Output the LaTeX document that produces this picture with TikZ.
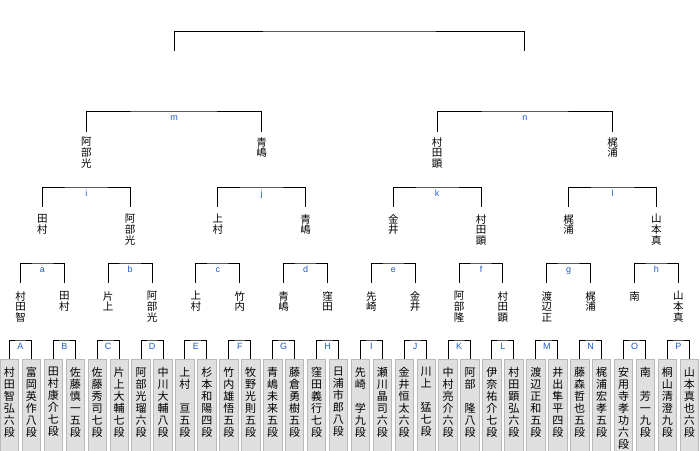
\documentclass[tikz,border=0pt]{standalone}
\usepackage{fontspec}
\newfontfamily\jpfont{Noto Sans CJK JP}
\newfontfamily\labfont{Liberation Sans}
\definecolor{labblue}{RGB}{30,90,200}
\newcommand{\zs}{\phantom{段}}
\begin{document}
\begin{tikzpicture}[x=1pt,y=-1pt,
  bline/.style={draw=black,line width=1pt},
  blabel/.style={font=\labfont\fontsize{9}{10}\selectfont,text=labblue,inner sep=0pt,anchor=base},
  pbox/.style={draw=gray!55,fill=gray!25,line width=0.8pt,minimum width=18.5pt,minimum height=93pt,inner sep=0pt,anchor=north},
  pname/.style={font=\jpfont\fontsize{11}{12}\selectfont,align=center,inner sep=0pt,anchor=north},
  wname/.style={font=\jpfont\fontsize{10.5}{10.8}\selectfont,align=center,inner sep=0pt,anchor=north}]
\useasboundingbox (0,0) rectangle (700,450);
% players
\foreach \t [count=\n from 0] in {
 {村\\田\\智\\弘\\六\\段},{富\\岡\\英\\作\\八\\段},{田\\村\\康\\介\\七\\段},{佐\\藤\\慎\\一\\五\\段},
 {佐\\藤\\秀\\司\\七\\段},{片\\上\\大\\輔\\七\\段},{阿\\部\\光\\瑠\\六\\段},{中\\川\\大\\輔\\八\\段},
 {上\\村\\\zs\\亘\\五\\段},{杉\\本\\和\\陽\\四\\段},{竹\\内\\雄\\悟\\五\\段},{牧\\野\\光\\則\\五\\段},
 {青\\嶋\\未\\来\\五\\段},{藤\\倉\\勇\\樹\\五\\段},{窪\\田\\義\\行\\七\\段},{日\\浦\\市\\郎\\八\\段},
 {先\\崎\\\zs\\学\\九\\段},{瀬\\川\\晶\\司\\六\\段},{金\\井\\恒\\太\\六\\段},{川\\上\\\zs\\猛\\七\\段},
 {中\\村\\亮\\介\\六\\段},{阿\\部\\\zs\\隆\\八\\段},{伊\\奈\\祐\\介\\七\\段},{村\\田\\顕\\弘\\六\\段},
 {渡\\辺\\正\\和\\五\\段},{井\\出\\隼\\平\\四\\段},{藤\\森\\哲\\也\\五\\段},{梶\\浦\\宏\\孝\\五\\段},
 {安\\用\\寺\\孝\\功\\六\\段},{南\\\zs\\芳\\一\\九\\段},{桐\\山\\清\\澄\\九\\段},{山\\本\\真\\也\\六\\段}}{
  \pgfmathsetmacro\cx{9.5+21.93*\n}
  \node[pbox] (box-\n) at (\cx,359) {};
  \node[pname] (nm-\n) at (\cx,367) {\t};
}
% level 0 brackets A-P
\foreach \L [count=\k from 0] in {A,B,C,D,E,F,G,H,I,J,K,L,M,N,O,P}{
  \pgfmathtruncatemacro\l{2*\k}
  \pgfmathtruncatemacro\r{2*\k+1}
  \pgfmathsetmacro\xm{20.5+43.86*\k}
  \coordinate (h0-\k) at (\xm,340);
  \draw[bline] (box-\l.north) |- (h0-\k) -| (box-\r.north);
  \node[blabel] (l0-\k) at (\xm,349.5) {\L};
}
% level 1 winners
\foreach \t [count=\k from 0] in {{村\\田\\智},{田\\村},{片\\上},{阿\\部\\光},{上\\村},{竹\\内},{青\\嶋},{窪\\田},
 {先\\崎},{金\\井},{阿\\部\\隆},{村\\田\\顕},{渡\\辺\\正},{梶\\浦},{南},{山\\本\\真}}{
  \pgfmathsetmacro\xx{20.5+43.86*\k}
  \coordinate (d1-\k) at (\xx,283);
  \node[wname] (w1-\k) at (\xx,291) {\t};
}
\foreach \L [count=\k from 0] in {a,b,c,d,e,f,g,h}{
  \pgfmathtruncatemacro\l{2*\k}
  \pgfmathtruncatemacro\r{2*\k+1}
  \pgfmathsetmacro\xm{42.4+87.72*\k}
  \coordinate (h1-\k) at (\xm,263);
  \draw[bline] (d1-\l) |- (h1-\k) -| (d1-\r);
  \node[blabel] (l1-\k) at (\xm,272.5) {\L};
}
% level 2 winners
\foreach \t [count=\k from 0] in {{田\\村},{阿\\部\\光},{上\\村},{青\\嶋},{金\\井},{村\\田\\顕},{梶\\浦},{山\\本\\真}}{
  \pgfmathsetmacro\xx{42.4+87.72*\k}
  \coordinate (d2-\k) at (\xx,207);
  \node[wname] (w2-\k) at (\xx,214) {\t};
}
\foreach \L [count=\k from 0] in {i,j,k,l}{
  \pgfmathtruncatemacro\l{2*\k}
  \pgfmathtruncatemacro\r{2*\k+1}
  \pgfmathsetmacro\xm{86.3+175.44*\k}
  \coordinate (h2-\k) at (\xm,187);
  \draw[bline] (d2-\l) |- (h2-\k) -| (d2-\r);
  \node[blabel] (l2-\k) at (\xm,196.5) {\L};
}
% level 3 winners
\foreach \t [count=\k from 0] in {{阿\\部\\光},{青\\嶋},{村\\田\\顕},{梶\\浦}}{
  \pgfmathsetmacro\xx{86.3+175.44*\k}
  \coordinate (d3-\k) at (\xx,132);
  \node[wname] (w3-\k) at (\xx,137) {\t};
}
\foreach \L [count=\k from 0] in {m,n}{
  \pgfmathtruncatemacro\l{2*\k}
  \pgfmathtruncatemacro\r{2*\k+1}
  \pgfmathsetmacro\xm{174+350.88*\k}
  \coordinate (h3-\k) at (\xm,111);
  \draw[bline] (d3-\l) |- (h3-\k) -| (d3-\r);
  \node[blabel] (l3-\k) at (\xm,120.5) {\L};
}
% final
\coordinate (d4-0) at (174,51);
\coordinate (d4-1) at (524.9,51);
\coordinate (h4) at (349.5,31);
\draw[bline] (d4-0) |- (h4) -| (d4-1);
\end{tikzpicture}
\end{document}
